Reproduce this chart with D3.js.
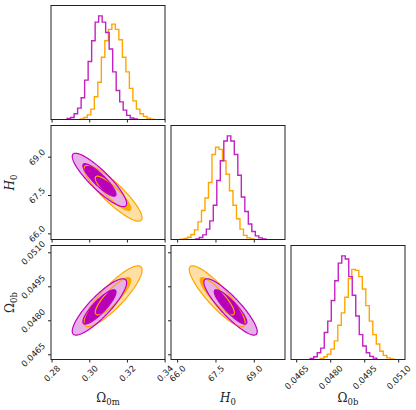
<!DOCTYPE html>
<html>
<head>
<meta charset="utf-8">
<script src="https://cdn.jsdelivr.net/npm/d3@7"></script>
<style>
  body { margin: 0; background: #fff; }
</style>
</head>
<body>
<svg id="chart" width="416" height="410"></svg>
<script>
// parameters: Omega_0m, H_0, Omega_0b
const labelMain = ['Ω', 'H', 'Ω']
const labelSub = ['0m', '0', '0b']
const labelItalic = [false, true, false]

const omDomain = [0.2797, 0.3402]
const h0Domain = [65.76, 70.22]
const obDomain = [0.04627, 0.0513]
const omTicks = [0.28, 0.30, 0.32, 0.34]
const h0Ticks = [66.0, 67.5, 69.0]
const obTicks = [0.0465, 0.0480, 0.0495, 0.0510]
const tickFormats = ['.2f', '.1f', '.4f']

// gaussian summary of each chain
const orangeMean = [0.3126, 67.57, 0.04906]
const orangeSigma = [0.0062, 0.44, 0.00054]
const magentaMean = [0.3054, 68.09, 0.04859]
const magentaSigma = [0.0058, 0.42, 0.0005]
// correlations: [Om-H0, Om-Ob, H0-Ob]
const orangeCorr = [-0.88, 0.86, -0.88]
const magentaCorr = [-0.88, 0.86, -0.88]

// 1d histograms (bin start, bin width, heights relative to tallest peak)
const binWidths = [0.00186, 0.137, 0.0001544]
const orangeStarts = [0.29526, 66.13, 0.047563]
const magentaStarts = [0.28825, 66.73, 0.04712]
const orangeOmHist = [0.006, 0.02, 0.045, 0.10, 0.22, 0.36, 0.60, 0.76, 0.87, 0.92, 0.87, 0.77, 0.60, 0.46, 0.30, 0.18, 0.10, 0.055, 0.03, 0.013, 0.003]
const magentaOmHist = [0.01, 0.02, 0.055, 0.11, 0.21, 0.38, 0.56, 0.76, 0.94, 1.0, 0.94, 0.84, 0.68, 0.46, 0.28, 0.17, 0.09, 0.04, 0.015, 0.005]
const orangeH0Hist = [0.003, 0.01, 0.022, 0.048, 0.093, 0.17, 0.28, 0.40, 0.55, 0.82, 0.89, 0.87, 0.76, 0.63, 0.47, 0.33, 0.20, 0.10, 0.04, 0.016, 0.006]
const magentaH0Hist = [0.006, 0.02, 0.045, 0.10, 0.18, 0.33, 0.57, 0.76, 0.95, 1.0, 0.95, 0.82, 0.62, 0.41, 0.27, 0.15, 0.077, 0.035, 0.016, 0.006]
const orangeObHist = [0.01, 0.026, 0.052, 0.10, 0.18, 0.33, 0.45, 0.60, 0.78, 0.87, 0.86, 0.80, 0.68, 0.52, 0.37, 0.24, 0.15, 0.08, 0.04, 0.016, 0.006]
const magentaObHist = [0.01, 0.026, 0.065, 0.11, 0.26, 0.37, 0.57, 0.76, 0.93, 1.0, 0.97, 0.80, 0.62, 0.42, 0.24, 0.13, 0.065, 0.03, 0.013]

const domains = [omDomain, h0Domain, obDomain]
const ticks = [omTicks, h0Ticks, obTicks]

const series = [
  {
    mean: orangeMean, sigma: orangeSigma, corr: orangeCorr,
    starts: orangeStarts, hists: [orangeOmHist, orangeH0Hist, orangeObHist],
    line: '#ffa500', light: '#ffdfa3', dark: '#ffa500', histLine: '#ffa500'
  },
  {
    mean: magentaMean, sigma: magentaSigma, corr: magentaCorr,
    starts: magentaStarts, hists: [magentaOmHist, magentaH0Hist, magentaObHist],
    line: '#bf00bf', light: '#e8b0e8', dark: '#b800b8', histLine: '#c222c2'
  }
]

const levels = [Math.sqrt(6.18), Math.sqrt(2.30)] // 2 sigma, 1 sigma

const svg = d3.select('#chart')
const size = 114
const lefts = [51, 171, 291]
const tops = [5.5, 125.5, 245.5]
const tickFont = 8.5

function corrOf (s, a, b) {
  const key = a + b // 0+1 ->1, 0+2 -> 2, 1+2 -> 3
  return s.corr[key - 1]
}

function ellipsePoints (s, j, i, r) {
  const rho = corrOf(s, j, i)
  const k = Math.sqrt(1 - rho * rho)
  return d3.range(0, 2 * Math.PI, Math.PI / 90).map(t => [
    s.mean[j] + r * s.sigma[j] * Math.cos(t),
    s.mean[i] + r * s.sigma[i] * (rho * Math.cos(t) + k * Math.sin(t))
  ])
}

// place rotated tick labels like matplotlib rotation=45
function rotateLabels (axisG, side) {
  axisG.selectAll('.tick text').each(function () {
    const t = d3.select(this)
    t.attr('x', null).attr('y', null).attr('dy', null)
      .attr('text-anchor', 'middle')
      .attr('dominant-baseline', 'central')
      .style('font-family', 'DejaVu Sans')
      .style('font-size', tickFont + 'px')
      .attr('fill', '#222')
    const L = this.getComputedTextLength()
    const half = (L + tickFont * 0.75) * 0.7071 / 2
    if (side === 'bottom') {
      t.attr('transform', `translate(0,${3 + 2 + half}) rotate(-45)`)
    } else {
      t.attr('transform', `translate(${-(3 + 2 + half)},0) rotate(-45)`)
    }
  })
}

for (let i = 0; i < 3; i++) {
  for (let j = 0; j <= i; j++) {
    const g = svg.append('g').attr('transform', `translate(${lefts[j]},${tops[i]})`)
    const x = d3.scaleLinear().domain(domains[j]).range([0, size])
    const clipId = `clip-${i}-${j}`
    g.append('clipPath').attr('id', clipId)
      .append('rect').attr('width', size).attr('height', size)
    const plot = g.append('g').attr('clip-path', `url(#${clipId})`)

    let y
    if (i === j) {
      y = d3.scaleLinear().domain([0, 1.1]).range([size, 0])
      const step = d3.line().x(d => x(d[0])).y(d => y(d[1])).curve(d3.curveStepAfter)
      series.forEach(s => {
        const h = s.hists[i]
        const w = binWidths[i]
        const pts = [[s.starts[i], 0]]
        h.forEach((v, k) => pts.push([s.starts[i] + k * w, v]))
        pts.push([s.starts[i] + h.length * w, 0])
        plot.append('path')
          .attr('d', step(pts))
          .attr('fill', 'none')
          .attr('stroke', s.histLine)
          .attr('stroke-width', 1.4)
      })
    } else {
      y = d3.scaleLinear().domain(domains[i]).range([size, 0])
      const shape = d3.line().x(d => x(d[0])).y(d => y(d[1])).curve(d3.curveLinearClosed)
      // fills first
      series.forEach(s => {
        plot.append('path').attr('d', shape(ellipsePoints(s, j, i, levels[0])))
          .attr('fill', s.light).attr('stroke', 'none')
        plot.append('path').attr('d', shape(ellipsePoints(s, j, i, levels[1])))
          .attr('fill', s.dark).attr('stroke', 'none')
      })
      // contour lines on top
      series.forEach(s => {
        levels.forEach(r => {
          plot.append('path').attr('d', shape(ellipsePoints(s, j, i, r)))
            .attr('fill', 'none').attr('stroke', s.line).attr('stroke-width', 1.2)
        })
      })
    }

    // frame
    g.append('rect').attr('width', size).attr('height', size)
      .attr('fill', 'none').attr('stroke', '#222').attr('stroke-width', 1)

    // bottom axis
    const xAxis = d3.axisBottom(x).tickValues(ticks[j]).tickSize(3).tickSizeOuter(0)
    if (i === 2) xAxis.tickFormat(d3.format(tickFormats[j]))
    else xAxis.tickFormat('')
    const xg = g.append('g').attr('transform', `translate(0,${size})`).call(xAxis)
    xg.select('.domain').remove()
    xg.selectAll('.tick line').attr('stroke', '#222')
    if (i === 2) rotateLabels(xg, 'bottom')

    // left axis on the 2d panels
    if (i !== j) {
      const yAxis = d3.axisLeft(y).tickValues(ticks[i]).tickSize(3).tickSizeOuter(0)
      if (j === 0) yAxis.tickFormat(d3.format(tickFormats[i]))
      else yAxis.tickFormat('')
      const yg = g.append('g').call(yAxis)
      yg.select('.domain').remove()
      yg.selectAll('.tick line').attr('stroke', '#222')
      if (j === 0) rotateLabels(yg, 'left')
    }
  }
}

// axis titles
function addLabel (k, xPos, yPos, rotate) {
  const t = svg.append('text')
    .attr('transform', `translate(${xPos},${yPos})` + (rotate ? ' rotate(-90)' : ''))
    .attr('text-anchor', 'middle')
    .style('font-family', 'DejaVu Serif')
    .style('font-size', '12px')
    .attr('fill', '#222')
  t.append('tspan').text(labelMain[k])
    .style('font-style', labelItalic[k] ? 'italic' : 'normal')
  t.append('tspan').text(labelSub[k])
    .attr('dy', 3).style('font-size', '8.5px')
}

for (let k = 0; k < 3; k++) {
  addLabel(k, lefts[k] + size / 2, 402, false)
}
addLabel(1, 14, tops[1] + size / 2, true)
addLabel(2, 14, tops[2] + size / 2, true)
</script>
</body>
</html>
